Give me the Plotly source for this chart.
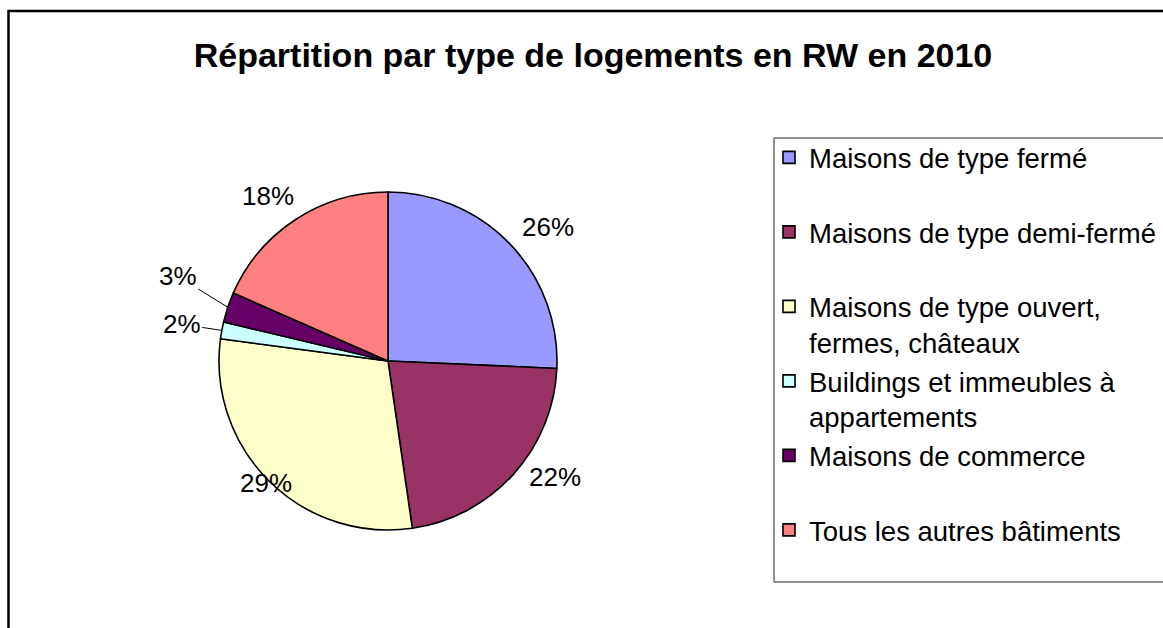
import math
import plotly.graph_objects as go

# ---- data ----
categories = [
    "Maisons de type fermé",
    "Maisons de type demi-fermé",
    "Maisons de type ouvert,<br>fermes, châteaux",
    "Buildings et immeubles à<br>appartements",
    "Maisons de commerce",
    "Tous les autres bâtiments",
]
values = [25.7, 22.0, 29.4, 1.6, 2.9, 18.4]
percent_labels = ["26%", "22%", "29%", "2%", "3%", "18%"]
colors = ["#9999FF", "#993366", "#FFFFCC", "#CCFFFF", "#660066", "#FF8080"]

# ---- layout constants (page pixels) ----
W, H = 1163, 628
CX, CY, R = 388, 361, 169
FONT = "Liberation Sans, Arial, sans-serif"

# label offsets from slice edge point (px); arrow = leader line
label_style = [
    dict(dx=38, dy=-17, arrow=False),
    dict(dx=42, dy=20, arrow=False),
    dict(dx=-31, dy=19, arrow=False),
    dict(dx=-40, dy=-6, arrow=True),
    dict(dx=-50, dy=-31, arrow=True),
    dict(dx=-56, dy=-23, arrow=False),
]


def px2paper(x, y):
    return x / W, 1 - y / H


legend_names = [c if "<br>" in c else c + "<br> " for c in categories]

dx0, dy0 = px2paper(CX - R, CY + R)
dx1, dy1 = px2paper(CX + R, CY - R)

fig = go.Figure(
    go.Pie(
        labels=legend_names,
        values=values,
        sort=False,
        direction="clockwise",
        rotation=0,
        marker=dict(colors=colors, line=dict(color="black", width=1.6)),
        textinfo="none",
        hoverinfo="label+percent",
        domain=dict(x=[dx0, dx1], y=[dy0, dy1]),
    )
)

# percentage labels computed from the slice mid-angles
total = sum(values)
cum = 0
annotations = []
for v, lab, st in zip(values, percent_labels, label_style):
    mid = (cum + v / 2) / total * 2 * math.pi
    cum += v
    ex = CX + R * math.sin(mid)
    ey = CY - R * math.cos(mid)
    px, py = px2paper(ex, ey)
    common = dict(x=px, y=py, xref="paper", yref="paper", text=lab,
                  font=dict(family=FONT, size=26, color="black"))
    if st["arrow"]:
        annotations.append(dict(
            **common, showarrow=True, arrowhead=0, arrowwidth=1,
            arrowcolor="black", ax=st["dx"], ay=st["dy"], standoff=0,
        ))
    else:
        annotations.append(dict(
            **common, showarrow=False, xshift=st["dx"], yshift=-st["dy"],
        ))

bx0, by0 = px2paper(8.5, 11)
lx0, ly0 = px2paper(774, 138)
lx1, ly1 = px2paper(1180, 582)
legx, legy = px2paper(769, 133)
tx, ty = px2paper(593, 55)

fig.update_layout(
    width=W, height=H,
    margin=dict(l=0, r=0, t=0, b=0, autoexpand=False),
    paper_bgcolor="white",
    plot_bgcolor="white",
    font=dict(family=FONT, color="black"),
    title=dict(
        text="<b>Répartition par type de logements en RW en 2010</b>",
        x=tx, y=ty, xanchor="center", yanchor="middle",
        font=dict(family=FONT, size=34, color="black"),
    ),
    legend=dict(
        x=legx, y=legy, xanchor="left", yanchor="top",
        font=dict(family=FONT, size=27.5, color="black"),
        bgcolor="rgba(0,0,0,0)", borderwidth=0,
        valign="top", traceorder="normal",
    ),
    annotations=annotations,
    shapes=[
        dict(type="rect", xref="paper", yref="paper",
             x0=bx0, y0=-0.05, x1=1.05, y1=by0,
             line=dict(color="black", width=2.5), layer="below"),
        dict(type="rect", xref="paper", yref="paper",
             x0=lx0, y0=ly1, x1=lx1, y1=ly0,
             line=dict(color="#222222", width=1), layer="below"),
    ],
)

fig.write_html(
    "out.html",
    config={"displayModeBar": False},
    post_script="document.body.style.margin='0';"
                "document.body.style.overflow='hidden';",
)
